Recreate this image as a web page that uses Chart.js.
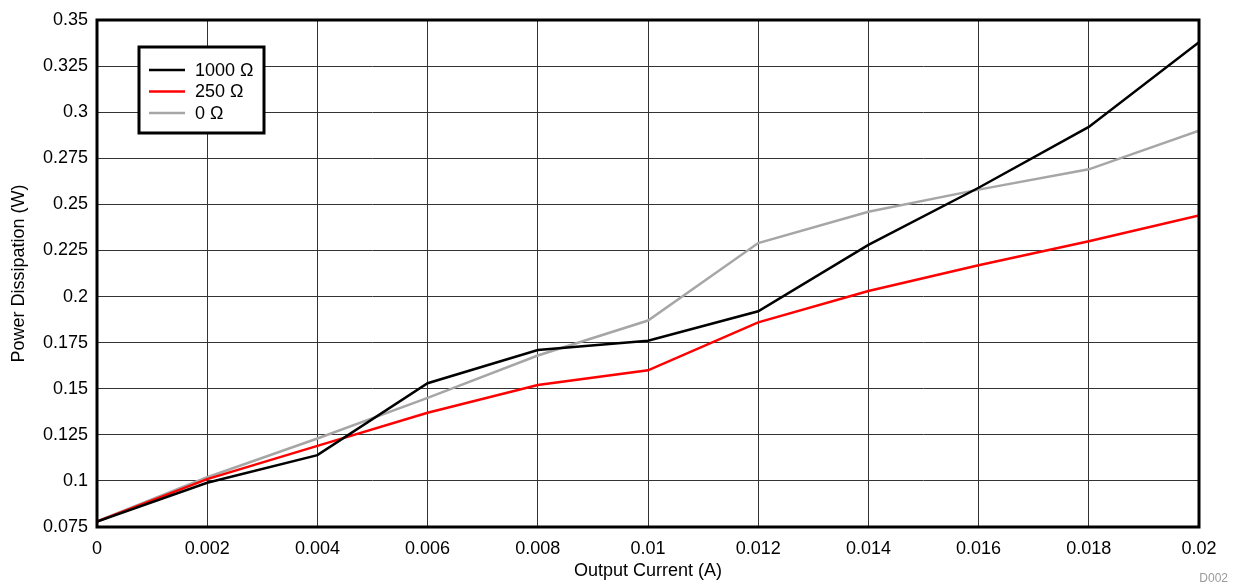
<!DOCTYPE html>
<html>
<head>
<meta charset="utf-8">
<script src="https://cdn.jsdelivr.net/npm/chart.js@4/dist/chart.umd.min.js"></script>
<style>
  html, body { margin: 0; padding: 0; background: #fff; }
  #wrap { width: 1234px; height: 587px; position: relative; }
</style>
</head>
<body>
<div id="wrap"><canvas id="chart" width="1234" height="587"></canvas></div>
<script>
// Output current (A)
const currents = [0, 0.002, 0.004, 0.006, 0.008, 0.01, 0.012, 0.014, 0.016, 0.018, 0.02];

// Power dissipation (W) per load resistance
const load1000 = [0.078, 0.099, 0.114, 0.153, 0.171, 0.176, 0.192, 0.228, 0.259, 0.292, 0.338];
const load250 = [0.078, 0.101, 0.119, 0.137, 0.152, 0.160, 0.186, 0.203, 0.217, 0.230, 0.244];
const load0 = [0.078, 0.102, 0.123, 0.145, 0.168, 0.187, 0.229, 0.246, 0.258, 0.269, 0.290];

const seriesLabels = ['1000 Ω', '250 Ω', '0 Ω'];
const seriesColors = ['#000000', '#ff0000', '#a6a6a6'];

const xTicks = [0, 0.002, 0.004, 0.006, 0.008, 0.01, 0.012, 0.014, 0.016, 0.018, 0.02];
const yTicks = [0.075, 0.1, 0.125, 0.15, 0.175, 0.2, 0.225, 0.25, 0.275, 0.3, 0.325, 0.35];

const FONT = 'Liberation Sans, Arial, sans-serif';

function toPoints(values) {
  return currents.map((x, i) => ({ x: x, y: values[i] }));
}

// frame around the plot, inside legend box and the D002 tag
const framePlugin = {
  id: 'frame',
  afterDatasetsDraw(chart) {
    const { ctx, chartArea: a } = chart;
    ctx.save();
    ctx.strokeStyle = '#000';
    ctx.lineWidth = 3;
    ctx.strokeRect(a.left, a.top, a.right - a.left, a.bottom - a.top);

    // legend
    const bx = 139, by = 47, bw = 125, bh = 86;
    ctx.fillStyle = '#fff';
    ctx.fillRect(bx, by, bw, bh);
    ctx.strokeRect(bx, by, bw, bh);
    ctx.font = '18px ' + FONT;
    ctx.textBaseline = 'middle';
    chart.data.datasets.forEach((ds, i) => {
      const y = 70 + i * 21.5;
      ctx.strokeStyle = ds.borderColor;
      ctx.lineWidth = 2.5;
      ctx.beginPath();
      ctx.moveTo(149, y);
      ctx.lineTo(185, y);
      ctx.stroke();
      ctx.fillStyle = '#000';
      ctx.fillText(ds.label, 195, y + 1);
    });

    ctx.fillStyle = '#9a9a9a';
    ctx.font = '12px ' + FONT;
    ctx.textAlign = 'right';
    ctx.textBaseline = 'alphabetic';
    ctx.fillText('D002', 1228, 582);
    ctx.restore();
  }
};

new Chart(document.getElementById('chart'), {
  type: 'line',
  data: {
    datasets: [
      { label: seriesLabels[0], data: toPoints(load1000), borderColor: seriesColors[0] },
      { label: seriesLabels[1], data: toPoints(load250), borderColor: seriesColors[1] },
      { label: seriesLabels[2], data: toPoints(load0), borderColor: seriesColors[2] }
    ].map(ds => Object.assign(ds, {
      borderWidth: 2.5,
      pointRadius: 0,
      tension: 0,
      fill: false
    }))
  },
  options: {
    responsive: false,
    animation: false,
    layout: { padding: { top: 20, right: 35, left: 0, bottom: 0 } },
    plugins: {
      legend: { display: false },
      tooltip: { enabled: false }
    },
    scales: {
      x: {
        type: 'linear',
        min: 0,
        max: 0.02,
        afterBuildTicks(axis) { axis.ticks = xTicks.map(v => ({ value: v })); },
        afterFit(axis) { axis.height = 60; },
        grid: { color: '#333', lineWidth: 1, drawTicks: false },
        border: { display: false },
        ticks: {
          color: '#000',
          font: { family: FONT, size: 18 },
          padding: 11,
          maxRotation: 0,
          callback: v => String(+v.toFixed(3))
        },
        title: {
          display: true,
          text: 'Output Current (A)',
          color: '#000',
          font: { family: FONT, size: 18 },
          padding: { top: 0, bottom: 5 }
        }
      },
      y: {
        type: 'linear',
        min: 0.075,
        max: 0.35,
        afterBuildTicks(axis) { axis.ticks = yTicks.map(v => ({ value: v })); },
        afterFit(axis) { axis.width = 97; },
        grid: { color: '#333', lineWidth: 1, drawTicks: false },
        border: { display: false },
        ticks: {
          color: '#000',
          font: { family: FONT, size: 18 },
          padding: 9,
          callback: v => String(+v.toFixed(3))
        },
        title: {
          display: true,
          text: 'Power Dissipation (W)',
          color: '#000',
          font: { family: FONT, size: 18 },
          padding: { top: 8, bottom: 0 }
        }
      }
    }
  },
  plugins: [framePlugin]
});
</script>
</body>
</html>
